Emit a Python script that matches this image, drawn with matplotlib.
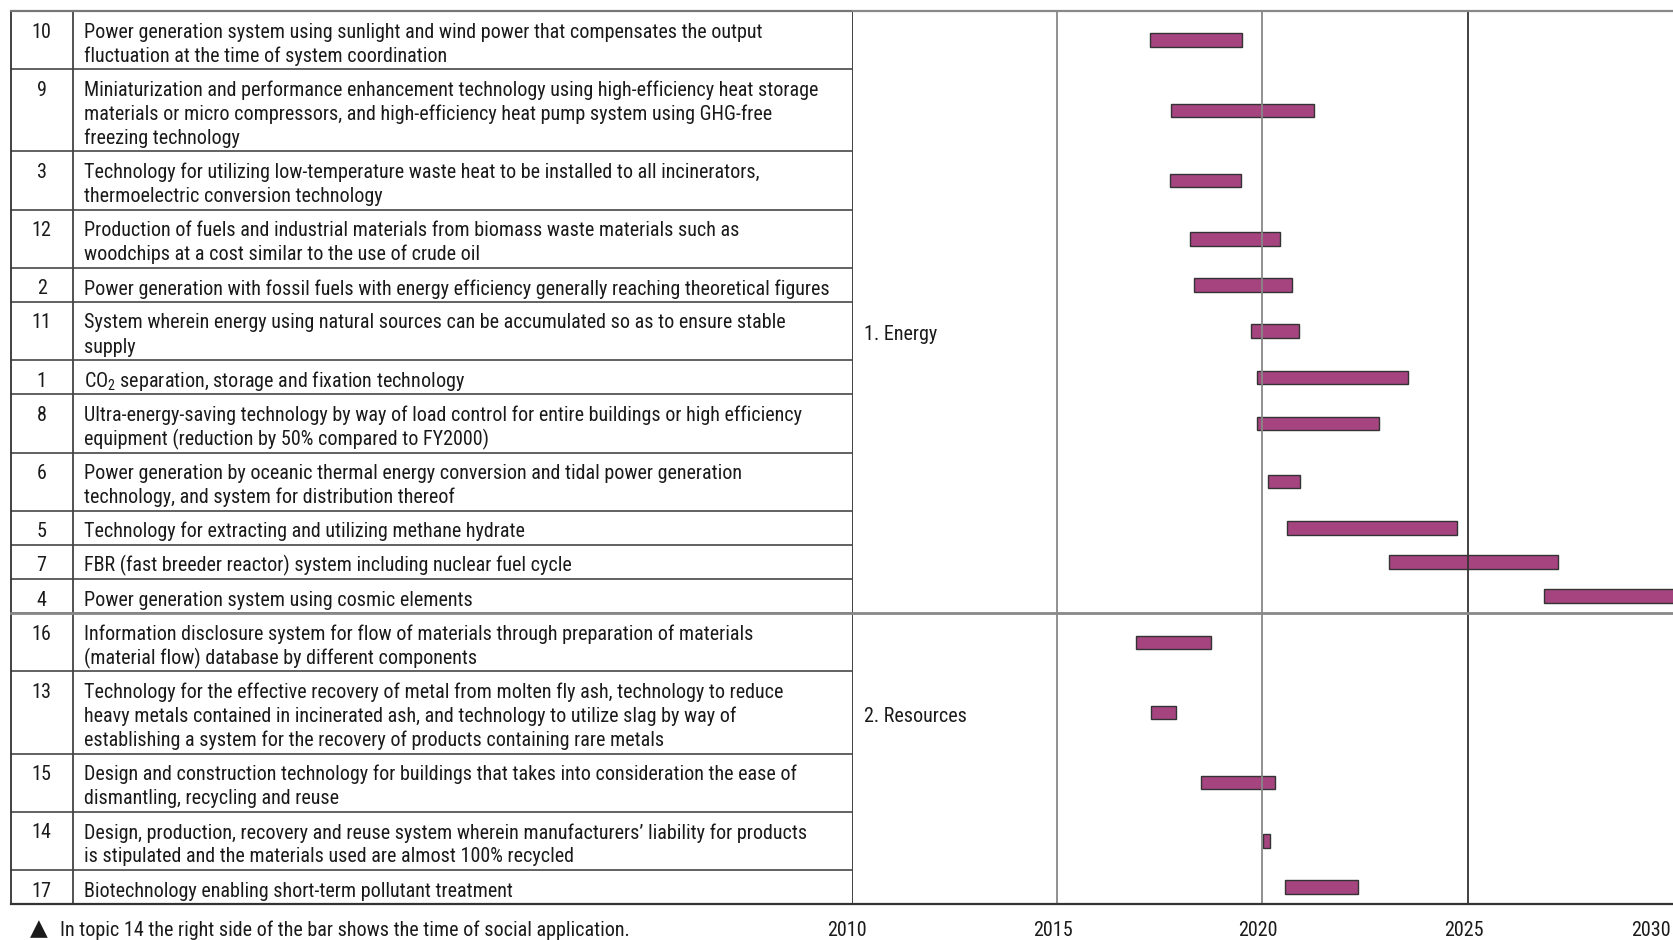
import numpy as np
import matplotlib.pyplot as plt
from matplotlib import font_manager as fm

# pick a narrow sans face if one is available
names = set(f.name for f in fm.fontManager.ttflist)
cond = [f.name for f in fm.fontManager.ttflist
        if f.stretch in ('condensed', 'semi-condensed', 'extra-condensed')
        or 'Condensed' in f.name or 'Narrow' in f.name]
face, stretch = 'DejaVu Sans', 'normal'
for cand in ['Roboto Condensed', 'Liberation Sans Narrow', 'Open Sans Condensed', 'Noto Sans Condensed',
             'DejaVu Sans Condensed']:
    if cand in names:
        face = cand
        break
else:
    if 'DejaVu Sans' in cond:
        face, stretch = 'DejaVu Sans', 'condensed'
    elif cond:
        face = cond[0]
    elif 'Roboto' in names:
        face = 'Roboto'

plt.rcParams['font.family'] = [face, 'DejaVu Sans']
plt.rcParams['font.stretch'] = stretch
plt.rcParams['mathtext.fontset'] = 'custom'
plt.rcParams['mathtext.rm'] = face

# topic number, description, start / end of the bar (year)
ids = [10, 9, 3, 12, 2, 11, 1, 8, 6, 5, 7, 4, 16, 13, 15, 14, 17]
topics = [
    "Power generation system using sunlight and wind power that compensates the output\n"
    "fluctuation at the time of system coordination",
    "Miniaturization and performance enhancement technology using high-efficiency heat storage\n"
    "materials or micro compressors, and high-efficiency heat pump system using GHG-free\n"
    "freezing technology",
    "Technology for utilizing low-temperature waste heat to be installed to all incinerators,\n"
    "thermoelectric conversion technology",
    "Production of fuels and industrial materials from biomass waste materials such as\n"
    "woodchips at a cost similar to the use of crude oil",
    "Power generation with fossil fuels with energy efficiency generally reaching theoretical figures",
    "System wherein energy using natural sources can be accumulated so as to ensure stable\n"
    "supply",
    r"CO$_\mathrm{2}$ separation, storage and fixation technology",
    "Ultra-energy-saving technology by way of load control for entire buildings or high efficiency\n"
    "equipment (reduction by 50% compared to FY2000)",
    "Power generation by oceanic thermal energy conversion and tidal power generation\n"
    "technology, and system for distribution thereof",
    "Technology for extracting and utilizing methane hydrate",
    "FBR (fast breeder reactor) system including nuclear fuel cycle",
    "Power generation system using cosmic elements",
    "Information disclosure system for flow of materials through preparation of materials\n"
    "(material flow) database by different components",
    "Technology for the effective recovery of metal from molten fly ash, technology to reduce\n"
    "heavy metals contained in incinerated ash, and technology to utilize slag by way of\n"
    "establishing a system for the recovery of products containing rare metals",
    "Design and construction technology for buildings that takes into consideration the ease of\n"
    "dismantling, recycling and reuse",
    "Design, production, recovery and reuse system wherein manufacturers\u2019 liability for products\n"
    "is stipulated and the materials used are almost 100% recycled",
    "Biotechnology enabling short-term pollutant treatment",
]
start = [2017.27, 2017.79, 2017.76, 2018.23, 2018.34, 2019.72, 2019.88, 2019.88, 2020.13,
         2020.61, 2023.08, 2026.85, 2016.93, 2017.30, 2018.52, 2020.03, 2020.56]
end = [2019.51, 2021.25, 2019.48, 2020.44, 2020.73, 2020.90, 2023.54, 2022.84, 2020.93,
       2024.74, 2027.21, 2031.00, 2018.75, 2017.89, 2020.30, 2020.20, 2022.33]
groups = ['1. Energy', '2. Resources']
group_size = [12, 5]
group_label_y = [334, 716]
years = [2010, 2015, 2020, 2025, 2030]
note = "In topic 14 the right side of the bar shows the time of social application."

W, H = 1673, 940
X2010 = 851.5
TOP = 11.0
LINE = 24.05
PAD = 10.1
bar_col = '#a5447f'
txt_col = '#1a1a1a'

fig = plt.figure(figsize=(W / 100, H / 100), dpi=100)

# size the text so the longest one-line topic spans about the same width as in the source
probe = fig.text(0, 0, topics[4], fontsize=14)
fig.canvas.draw()
w14 = probe.get_window_extent().width
probe.remove()
FS = min(14 * 752 / w14, 15.5)
FS = max(FS, 11.5)

nlines = [t.count('\n') + 1 for t in topics]
heights = np.array([PAD + LINE * n for n in nlines])
edges = TOP + np.concatenate([[0], np.cumsum(heights)])
bottom = edges[-1]

tab = fig.add_axes([0, 0, X2010 / W, 1])
tab.set_xlim(0, X2010)
tab.set_ylim(H, 0)
tab.axis('off')

ax = fig.add_axes([X2010 / W, 0, 1 - X2010 / W, 1])
ax.set_xlim(2010, 2030)
ax.set_ylim(H, 0)
ax.axis('off')

# table
for i, (n, t) in enumerate(zip(ids, topics)):
    y0 = edges[i]
    tab.text(41.6, y0 + 21, str(n), ha='center', va='center', fontsize=FS, color=txt_col)
    for k, ln in enumerate(t.split('\n')):
        tab.text(84, y0 + 21 + LINE * k, ln, ha='left', va='center', fontsize=FS, color=txt_col)
    if i > 0:
        tab.plot([10.7, X2010], [y0, y0], color='#555555', lw=1.3, solid_capstyle='butt')

tab.plot([10.7, 10.7], [TOP, bottom], color='#333333', lw=1.3)
tab.plot([72.6, 72.6], [TOP, bottom], color='#444444', lw=1.3)
tab.plot([10.7, X2010], [TOP, TOP], color='#777777', lw=1.6)
tab.plot([10.7, X2010], [bottom, bottom], color='#333333', lw=1.6)
gsep = edges[group_size[0]]
tab.plot([10.7, X2010], [gsep, gsep], color='#888888', lw=2)

# footnote
tab.text(39, 929, "\u25b2", ha='center', va='center', fontsize=FS * 1.15, color=txt_col,
         family=['DejaVu Sans'])
tab.text(60, 930, note, ha='left', va='center', fontsize=FS, color=txt_col)

# chart part
for yr in years[:-1]:
    col = '#333333' if yr in (2010, 2025) else '#888888'
    ax.plot([yr, yr], [TOP, bottom], color=col, lw=1.3)
ax.plot([2010, 2030], [TOP, TOP], color='#888888', lw=1.6)
ax.plot([2010, 2030], [gsep, gsep], color='#888888', lw=2)
ax.plot([2010, 2030], [bottom, bottom], color='#333333', lw=1.6)

centers = (edges[:-1] + edges[1:]) / 2
ax.barh(centers, np.array(end) - np.array(start), left=start, height=13.5,
        color=bar_col, edgecolor='#333333', linewidth=1)

for g, y in zip(groups, group_label_y):
    ax.text(2010 + 12.5 / 41.075, y, g, ha='left', va='center', fontsize=FS, color=txt_col)

for yr in years:
    last = yr == years[-1]
    ax.text(yr - (0.05 if last else 0.1), 930, str(yr), ha='right' if last else 'center',
            va='center', fontsize=FS, color=txt_col, clip_on=False)

fig.savefig('out.png', dpi=100)
